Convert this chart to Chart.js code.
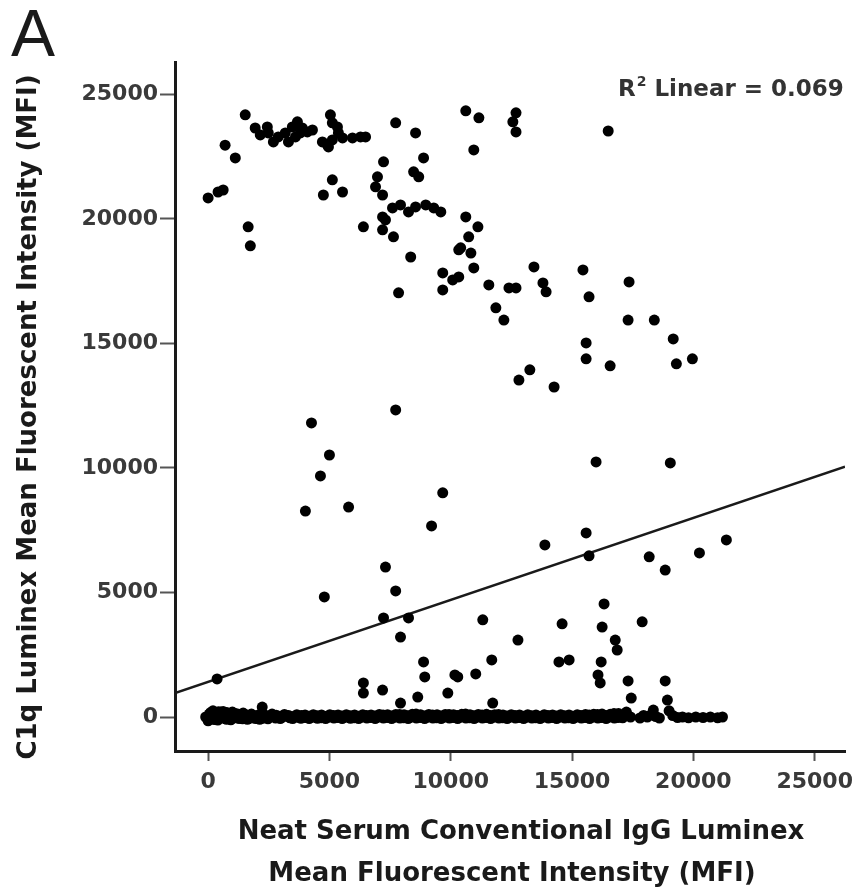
<!DOCTYPE html>
<html>
<head>
<meta charset="utf-8">
<script src="https://cdn.jsdelivr.net/npm/chart.js@4.4.1/dist/chart.umd.min.js"></script>
<style>
  html, body { margin: 0; padding: 0; background: #fff; }
  #wrap { width: 856px; height: 890px; }
</style>
</head>
<body>
<div id="wrap"><canvas id="scatterChart" width="856" height="890"></canvas></div>
<script>
// [neat serum IgG MFI, C1q MFI] - samples clearly above the floor
const upperPoints = [
  [0, 20840], [410, 21080], [620, 21160], [700, 22960], [1120, 22450], [1530, 24180], [1650, 19680], [1740, 18920],
  [1940, 23650], [2150, 23370], [2480, 23450], [2690, 23090], [2440, 23690], [2890, 23290], [3180, 23450], [3310, 23090],
  [3470, 23690], [3680, 23900], [3880, 23650], [4090, 23490], [4300, 23570], [3800, 23450], [3600, 23290],
  [5040, 24180], [5120, 23860], [5330, 23690], [4710, 23090], [4920, 22970], [5120, 23170], [5370, 23450], [5540, 23250],
  [5950, 23250], [6280, 23290], [6490, 23290], [4960, 22890],
  [5120, 21570], [4750, 20960], [5540, 21080],
  [7730, 23860], [8550, 23450], [7230, 22290], [6980, 21690], [6900, 21290], [7190, 20960], [8880, 22450], [8470, 21890],
  [8680, 21690], [6400, 19680],
  [7600, 20440], [7930, 20560], [8260, 20280], [8550, 20480], [8970, 20560], [9300, 20440], [9590, 20280], [7310, 19960],
  [7190, 20080], [7190, 19560], [7640, 19280], [8350, 18470], [7850, 17030], [9670, 17830], [10080, 17550], [9670, 17150],
  [10330, 18760],
  [10620, 24340], [11160, 24060], [12690, 24260], [12560, 23900], [12690, 23490], [16490, 23530], [10950, 22770],
  [10620, 20080], [11120, 19680], [10740, 19280], [10410, 18840], [10830, 18630], [10950, 18030], [10330, 17670],
  [11570, 17350], [12400, 17230], [12690, 17230], [13430, 18070], [13800, 17430], [13930, 17070], [15450, 17950],
  [15700, 16870], [17350, 17470],
  [11860, 16430], [12190, 15940], [17310, 15940], [18390, 15940], [15580, 15020], [15580, 14380], [16570, 14100],
  [19170, 15180], [19300, 14180], [19960, 14380], [13260, 13940], [12810, 13530], [14260, 13250], [15990, 10240],
  [19050, 10200],
  [7730, 12330], [4260, 11810], [5000, 10520], [4630, 9680], [4010, 8270], [5790, 8430], [9670, 9000], [9210, 7670],
  [7310, 6020], [7730, 5060], [4790, 4820], [7230, 3980], [8260, 3980], [7930, 3210], [370, 1530], [6400, 1370],
  [6400, 960], [7190, 1080], [8880, 2210], [8930, 1610], [10170, 1690], [8640, 800], [9880, 960], [7930, 560],
  [15580, 7390], [13880, 6910], [15700, 6470], [18180, 6430], [18840, 5900], [20250, 6590], [21360, 7110], [16320, 4540],
  [11320, 3900], [14590, 3740], [16240, 3610], [17890, 3820], [12770, 3090], [16780, 3090], [16860, 2690], [11690, 2290],
  [14460, 2210], [14880, 2290], [16200, 2210], [11030, 1730], [10290, 1610], [16070, 1690], [16160, 1370], [17310, 1450],
  [18840, 1450], [17440, 760], [18930, 680]
];

// samples sitting on the floor (C1q ~ 0)
const floorPoints = [
  [-100, 0], [0, -150], [50, 120], [100, 180], [150, -60], [200, 250], [260, 40], [300, -80], [320, 160], [380, -20],
  [400, -120], [450, 90], [520, 200], [600, -40], [620, 220], [680, 60], [760, -90], [800, 150], [850, 30], [940, -60],
  [1000, 200], [1030, 80], [1120, -30], [1220, 120], [1320, 0], [1420, -70], [1530, 90], [1640, 30], [1760, -40],
  [1880, 60], [2000, 0], [2120, 100], [2230, 400], [2240, -50], [2370, 40], [2500, 0], [2640, 60], [2780, -40],
  [2920, 30], [3070, 0], [3220, 50], [3370, -30], [3520, 20], [3680, 0], [3840, 60], [4000, -20], [4160, 30],
  [4320, 0], [4490, 50], [4660, -30], [4830, 20], [5000, 0], [5170, 60], [5340, -20], [5510, 40], [5680, 0],
  [5850, 50], [6020, -30], [6190, 30], [6360, 0], [6530, 60], [6700, -20], [6870, 40], [7040, 0], [7210, 80],
  [7380, -20], [7550, 40], [7720, 0], [7890, 100], [8060, -30], [8230, 50], [8400, 0], [8570, 120], [8740, -20],
  [8910, 40], [9080, 0], [9250, 80], [9420, -30], [9590, 40], [9760, 0], [9930, 100], [10100, -20], [10270, 60],
  [10440, 0], [10610, 120], [10780, -30], [10950, 50], [11120, 0], [11290, 80], [11460, -20], [11630, 60],
  [11730, 560], [11800, 0], [11970, 100], [12140, -30], [12310, 40], [12480, 0], [12650, 60], [12820, -20],
  [12990, 30], [13160, 0], [13330, 50], [13500, -30], [13670, 20], [13840, 0], [14010, 60], [14180, -20],
  [14350, 40], [14520, 0], [14690, 50], [14860, -30], [15030, 30], [15200, 0], [15370, 60], [15540, -20],
  [15710, 80], [15880, 0], [16050, 100], [16220, -20], [16390, 60], [16560, 0], [16730, 140], [16900, -20],
  [17070, 80], [17240, 200], [17410, 0], [17800, -40], [17950, 60], [18100, 0], [18250, 80], [18350, 280],
  [18450, 20], [18600, -40], [19000, 250], [19150, 60], [19350, -20], [19550, 0], [19800, -30], [20100, 0],
  [20400, -20], [20700, 0], [21000, -30], [21200, 0]
];

// second run of floor samples, packed between the first
const floorPointsB = [
  [85, 60], [255, -100], [425, 210], [595, 90], [765, 180], [935, -110], [1105, 140], [1275, -60], [1445, 160],
  [1615, -90], [1785, 120], [1955, -60], [2125, -90], [2295, 110], [2465, -70], [2635, 120], [2805, 70], [2975, -60],
  [3145, 100], [3315, 60], [3485, -60], [3655, 90], [3825, -50], [3995, 80], [4165, -60], [4335, 90], [4505, -50],
  [4675, 80], [4845, -60], [5015, 90], [5185, -40], [5355, 80], [5525, -60], [5695, 90], [5865, -50], [6035, 80],
  [6205, -60], [6375, 90], [6545, -40], [6715, 80], [6885, -60], [7055, 100], [7225, -40], [7395, 90], [7565, -60],
  [7735, 100], [7905, -40], [8075, 90], [8245, -60], [8415, 110], [8585, -40], [8755, 90], [8925, -60], [9095, 100],
  [9265, -40], [9435, 90], [9605, -60], [9775, 100], [9945, -40], [10115, 90], [10285, -60], [10455, 110],
  [10625, -40], [10795, 90], [10965, -60], [11135, 100], [11305, -40], [11475, 110], [11645, -60], [11815, 90],
  [11985, -40], [12155, 80], [12325, -60], [12495, 90], [12665, -40], [12835, 80], [13005, -60], [13175, 90],
  [13345, -40], [13515, 80], [13685, -60], [13855, 90], [14025, -40], [14195, 80], [14365, -60], [14535, 90],
  [14705, -40], [14875, 80], [15045, -60], [15215, 90], [15385, -40], [15555, 100], [15725, -60], [15895, 110],
  [16065, -40], [16235, 120], [16405, -60], [16575, 110], [16745, -40], [16915, 140], [17085, -30], [17255, 90]
];

const xTickValues = [0, 5000, 10000, 15000, 20000, 25000];
const yTickValues = [0, 5000, 10000, 15000, 20000, 25000];
const axisMin = -1365;
const xAxisMax = 26250;
const yAxisMax = 26300;

// linear fit
const fitIntercept = 1412;
const fitSlope = 0.329;
const rSquared = '0.069';

const xTitleLines = ['Neat Serum Conventional IgG Luminex', 'Mean Fluorescent Intensity (MFI)'];
const yTitle = 'C1q Luminex Mean Fluorescent Intensity (MFI)';
const panelLabel = 'A';

const toXY = p => ({ x: p[0], y: p[1] });
const fitLine = [axisMin, xAxisMax].map(x => ({ x: x, y: fitIntercept + fitSlope * x }));

const annotationText = {
    id: 'annotationText',
    afterDraw(chart) {
        const ctx = chart.ctx;
        ctx.save();
        // panel label
        ctx.fillStyle = '#1a1a1a';
        ctx.textAlign = 'left';
        ctx.textBaseline = 'alphabetic';
        ctx.font = '400 66px "Liberation Sans"';
        ctx.fillText(panelLabel, 11, 56);

        // R squared
        ctx.fillStyle = '#333';
        ctx.font = 'bold 23px "DejaVu Sans"';
        let x = 618;
        ctx.fillText('R', x, 96);
        x += ctx.measureText('R').width + 1;
        ctx.font = 'bold 14px "DejaVu Sans"';
        ctx.fillText('2', x, 86);
        x += ctx.measureText('2').width;
        ctx.font = 'bold 23px "DejaVu Sans"';
        ctx.fillText(' Linear = ' + rSquared, x, 96);

        // axis titles
        ctx.fillStyle = '#1a1a1a';
        ctx.font = 'bold 26px "DejaVu Sans"';
        ctx.textAlign = 'center';
        ctx.textBaseline = 'middle';
        ctx.fillText(xTitleLines[0], 521, 832);
        ctx.fillText(xTitleLines[1], 512, 874);

        ctx.translate(29, 417);
        ctx.rotate(-Math.PI / 2);
        ctx.fillText(yTitle, 0, 0);
        ctx.restore();
    }
};

const tickFont = { family: 'DejaVu Sans', size: 22, weight: 'bold' };
const dotStyle = { backgroundColor: '#000', borderWidth: 0, pointRadius: 5.5 };

const ctx = document.getElementById('scatterChart').getContext('2d');
new Chart(ctx, {
    type: 'scatter',
    data: {
        datasets: [
            Object.assign({ label: 'Floor', data: floorPoints.map(toXY) }, dotStyle),
            Object.assign({ label: 'Floor B', data: floorPointsB.map(toXY) }, dotStyle),
            Object.assign({ label: 'Samples', data: upperPoints.map(toXY) }, dotStyle),
            {
                type: 'line',
                label: 'Linear fit',
                data: fitLine,
                borderColor: '#1a1a1a',
                borderWidth: 2.5,
                pointRadius: 0,
                fill: false
            }
        ]
    },
    options: {
        responsive: false,
        animation: false,
        devicePixelRatio: 1,
        layout: { padding: { top: 62, right: 11, left: 0, bottom: 0 } },
        plugins: { legend: { display: false }, tooltip: { enabled: false } },
        scales: {
            x: {
                type: 'linear',
                min: axisMin,
                max: xAxisMax,
                afterBuildTicks: s => { s.ticks = xTickValues.map(v => ({ value: v })); },
                afterFit: s => { s.height = 139; s.paddingLeft = 0; s.paddingRight = 0; },
                grid: { drawOnChartArea: false, tickLength: 10, tickWidth: 2, tickColor: '#555' },
                border: { display: true, width: 3, color: '#1a1a1a' },
                ticks: { font: tickFont, color: '#3a3a3a', padding: 8, maxRotation: 0, callback: v => String(v) }
            },
            y: {
                type: 'linear',
                min: axisMin,
                max: yAxisMax,
                afterBuildTicks: s => { s.ticks = yTickValues.map(v => ({ value: v })); },
                afterFit: s => { s.width = 175; s.paddingTop = 0; s.paddingBottom = 0; },
                grid: { drawOnChartArea: false, tickLength: 15, tickWidth: 2, tickColor: '#555' },
                border: { display: true, width: 3, color: '#1a1a1a' },
                ticks: { font: tickFont, color: '#3a3a3a', padding: 2, callback: v => String(v) }
            }
        }
    },
    plugins: [annotationText]
});
</script>
</body>
</html>
